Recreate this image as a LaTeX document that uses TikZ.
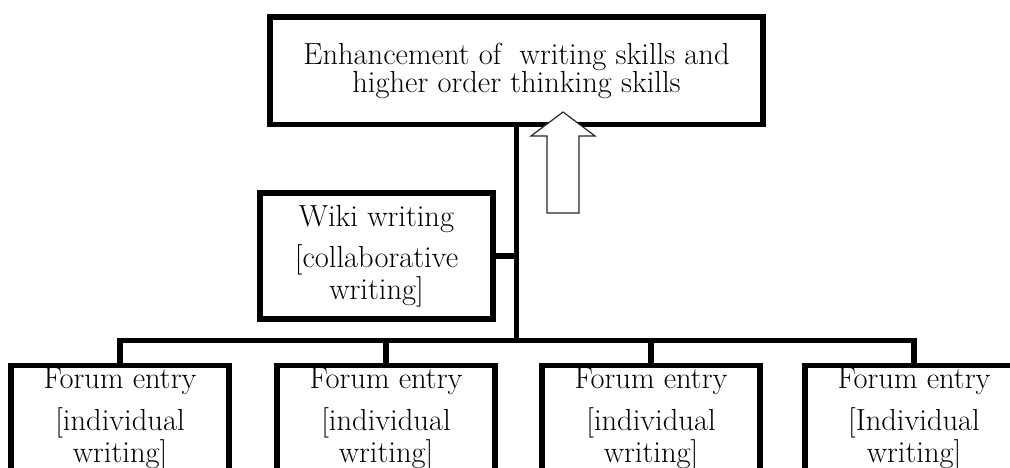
\documentclass[tikz,border=0pt]{standalone}
\usepackage{fontspec}

\begin{document}
\begin{tikzpicture}[
  x=1pt, y=-1pt, line width=5.5pt,
  txt/.style={font=\fontsize{30.5}{26}\selectfont, align=center, outer sep=0pt},
  bigbox/.style={txt, draw, minimum width=493pt, minimum height=107.5pt},
  wikibox/.style={txt, draw, minimum width=233pt, minimum height=126pt},
  forumbox/.style={txt, draw, anchor=north, minimum width=218pt,
    inner ysep=6.5pt, text height=90pt, text depth=100pt},
  hollow/.style={line width=1.2pt, draw=black!85, fill=white},
]
  \path[use as bounding box, clip] (0,0) rectangle (1010,468);

  \node[bigbox] (goal) at (516.5,71)
    {Enhancement of\ \ writing skills and\\higher order thinking skills};
  \node[wikibox] (wiki) at (376.5,256)
    {Wiki writing\\[11pt]{[}collaborative\\writing]};

  \node[forumbox] (forumA) at (120,365.5) {Forum entry\\[12pt]{[}individual\\writing]};
  \node[forumbox] (forumB) at (386,365.5) {Forum entry\\[12pt]{[}individual\\writing]};
  \node[forumbox] (forumC) at (651,365.5) {Forum entry\\[12pt]{[}individual\\writing]};
  \node[forumbox] (forumD) at (914,365.5) {Forum entry\\[12pt]{[}Individual\\writing]};

  \coordinate (bus) at (516.5,340.5);

  % trunk and branches
  \draw (goal.south) -- (bus);
  \draw (wiki.east) -- (wiki.east -| bus);
  \draw (forumA.north) |- (forumD.north |- bus) -- (forumD.north);
  \draw (forumB.north) -- (forumB.north |- bus);
  \draw (forumC.north) -- (forumC.north |- bus);

  % hollow upward arrow
  \draw[hollow] (547,213) -- (547,136) -- (531,136) -- (563,112)
    -- (595,136) -- (579,136) -- (579,213) -- cycle;
\end{tikzpicture}
\end{document}
